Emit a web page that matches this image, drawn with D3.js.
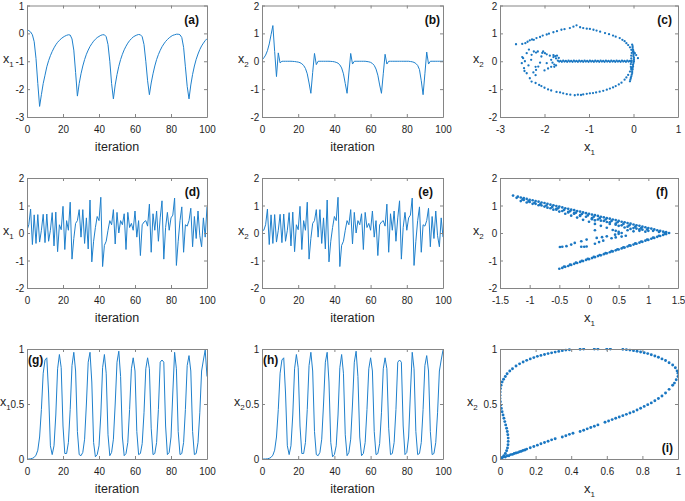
<!DOCTYPE html>
<html>
<head>
<meta charset="utf-8">
<script src="https://cdn.jsdelivr.net/npm/d3@7"></script>
<style>
  body { margin: 0; background: #fff; }
  svg { display: block; }
  text { font-family: Arial, "Liberation Sans", sans-serif; }
</style>
</head>
<body>
<div id="chart"></div>
<script>
// ---- data ----

// (a) x1 per iteration 0..100
const seriesA = [
  0.12, 0.1, 0.05, -0.05, -0.3, -0.9, -1.8, -2.62, -2.2, -1.8,
  -1.5, -1.2, -0.98, -0.8, -0.65, -0.52, -0.41, -0.32, -0.25, -0.19,
  -0.14, -0.1, -0.07, -0.05, -0.06, -0.2, -0.6, -1.4, -2.25, -1.8,
  -1.45, -1.17, -0.94, -0.75, -0.6, -0.47, -0.37, -0.28, -0.21, -0.15,
  -0.11, -0.07, -0.05, -0.05, -0.12, -0.4, -1.0, -1.8, -2.35, -1.85,
  -1.48, -1.18, -0.94, -0.75, -0.59, -0.46, -0.35, -0.26, -0.19, -0.13,
  -0.09, -0.06, -0.04, -0.05, -0.12, -0.4, -1.0, -1.7, -2.2, -1.78,
  -1.45, -1.17, -0.94, -0.76, -0.61, -0.48, -0.38, -0.29, -0.22, -0.16,
  -0.11, -0.07, -0.05, -0.03, -0.03, -0.05, -0.15, -0.5, -1.2, -1.9,
  -2.35, -1.85, -1.47, -1.17, -0.93, -0.74, -0.58, -0.45, -0.35, -0.26,
  -0.19
];

// (b) x2 per iteration
const seriesB = [
  0.05, 0.12, 0.22, 0.38, 0.62, 0.95, 1.28, 0.35, -0.55, 0.3,
  -0.06, 0.0, 0.0, 0.0, 0.0, 0.0, 0.0, -0.005, -0.01, -0.02,
  -0.03, -0.05, -0.09, -0.15, -0.26, -0.45, -0.78, -1.15, -0.4, 0.28,
  -0.12, 0.0, 0.0, 0.0, 0.0, 0.0, 0.0, 0.0, -0.005, -0.01,
  -0.02, -0.04, -0.07, -0.13, -0.24, -0.45, -0.8, -1.15, -0.42, 0.28,
  -0.1, 0.0, 0.0, 0.0, 0.0, 0.0, 0.0, 0.0, -0.01, -0.02,
  -0.04, -0.08, -0.15, -0.28, -0.5, -0.85, -1.15, -0.45, 0.25, -0.1,
  0.0, 0.0, 0.0, 0.0, 0.0, 0.0, 0.0, 0.0, 0.0, 0.0,
  0.0, 0.0, -0.01, -0.02, -0.04, -0.08, -0.15, -0.3, -0.7, -1.2,
  -0.45, 0.33, -0.1, 0.0, 0.0, 0.0, 0.0, 0.0, 0.0, 0.0,
  0.0
];

// (d) x1 per iteration
const seriesD = [
  0.1, 0.3, 0.87, -0.42, 0.66, -0.38, 0.67, -0.33, 0.1, 0.68,
  -0.35, 0.69, -0.3, 0.1, 0.74, -0.47, 0.76, -0.68, 0.3, 0.12,
  0.97, -0.6, 0.45, 0.1, 1.12, -0.95, -0.2, 0.35, 0.45, 0.85,
  -0.15, 0.85, -0.38, 0.55, -0.58, 1.2, -1.05, -0.3, 0.2, 0.6,
  0.45, 1.3, -1.22, -0.45, -0.3, 0.1, 0.45, 0.3, 0.85, -0.4,
  0.75, 0.0, 0.45, 0.3, 0.7, -0.6, 0.75, 0.2, 0.35, 0.1,
  0.8, -0.15, 0.45, -0.82, 0.3, 0.4, 0.45, 0.25, 1.05, -0.7,
  0.7, 0.1, 0.8, -0.3, 0.55, 1.17, -0.95, 0.2, 0.75, 0.1,
  0.55, 0.65, 1.27, -1.18, -0.3, 0.45, 0.95, -0.7, 0.3, 0.25,
  0.45, 0.9, -0.5, 0.6, -0.2, 0.8, -0.1, -0.5, 0.55, -0.15,
  0.95
];

// (e) x2 per iteration
const seriesE = [
  0.1, 0.1, 0.3, 0.87, -0.42, 0.66, -0.38, 0.67, -0.33, 0.1,
  0.68, -0.35, 0.69, -0.3, 0.1, 0.74, -0.47, 0.76, -0.68, 0.3,
  0.12, 0.97, -0.6, 0.45, 0.1, 1.12, -0.95, -0.2, 0.35, 0.45,
  0.85, -0.15, 0.85, -0.38, 0.55, -0.58, 1.2, -1.05, -0.3, 0.2,
  0.6, 0.45, 1.3, -1.22, -0.45, -0.3, 0.1, 0.45, 0.3, 0.85,
  -0.4, 0.75, 0.0, 0.45, 0.3, 0.7, -0.6, 0.75, 0.2, 0.35,
  0.1, 0.8, -0.15, 0.45, -0.82, 0.3, 0.4, 0.45, 0.25, 1.05,
  -0.7, 0.7, 0.1, 0.8, -0.3, 0.55, 1.17, -0.95, 0.2, 0.75,
  0.1, 0.55, 0.65, 1.27, -1.18, -0.3, 0.45, 0.95, -0.7, 0.3,
  0.25, 0.45, 0.9, -0.5, 0.6, -0.2, 0.8, -0.1, -0.5, 0.55,
  -0.15
];

// (g) x1 per iteration
const seriesG = [
  0.0, 0.0, 0.002, 0.006, 0.015, 0.035, 0.08, 0.2, 0.45, 0.78,
  0.9, 0.92, 0.6, 0.12, 0.04, 0.12, 0.4, 0.82, 0.95, 0.83,
  0.3, 0.05, 0.05, 0.15, 0.45, 0.85, 0.97, 0.8, 0.25, 0.04,
  0.03, 0.06, 0.18, 0.5, 0.88, 0.97, 0.7, 0.15, 0.02, 0.04,
  0.12, 0.4, 0.83, 0.95, 0.78, 0.22, 0.03, 0.06, 0.18, 0.5,
  0.88, 0.98, 0.75, 0.2, 0.03, 0.05, 0.15, 0.45, 0.82, 0.92,
  0.8, 0.25, 0.04, 0.05, 0.14, 0.42, 0.82, 0.92, 0.82, 0.28,
  0.04, 0.05, 0.15, 0.45, 0.88, 0.9, 0.88, 0.3, 0.04, 0.06,
  0.2, 0.6, 0.97, 0.82, 0.25, 0.04, 0.05, 0.15, 0.45, 0.85,
  0.94, 0.8, 0.25, 0.04, 0.05, 0.15, 0.42, 0.8, 0.9, 0.99,
  0.75
];

// (h) x2 per iteration
const seriesH = [
  0.0, 0.0, 0.0, 0.002, 0.006, 0.015, 0.035, 0.08, 0.2, 0.45,
  0.78, 0.9, 0.92, 0.6, 0.12, 0.04, 0.12, 0.4, 0.82, 0.95,
  0.83, 0.3, 0.05, 0.05, 0.15, 0.45, 0.85, 0.97, 0.8, 0.25,
  0.04, 0.03, 0.06, 0.18, 0.5, 0.88, 0.97, 0.7, 0.15, 0.02,
  0.04, 0.12, 0.4, 0.83, 0.95, 0.78, 0.22, 0.03, 0.06, 0.18,
  0.5, 0.88, 0.98, 0.75, 0.2, 0.03, 0.05, 0.15, 0.45, 0.82,
  0.92, 0.8, 0.25, 0.04, 0.05, 0.14, 0.42, 0.82, 0.92, 0.82,
  0.28, 0.04, 0.05, 0.15, 0.45, 0.88, 0.9, 0.88, 0.3, 0.04,
  0.06, 0.2, 0.6, 0.97, 0.82, 0.25, 0.04, 0.05, 0.15, 0.45,
  0.85, 0.94, 0.8, 0.25, 0.04, 0.05, 0.15, 0.42, 0.8, 0.9,
  0.99
];

// (c) phase points [x1, x2]
const pointsC = [
  [-2.64,0.61],[-2.5,0.62],[-2.43,0.65],[-2.38,0.7],[-2.33,0.75],[-2.28,0.78],[-2.24,0.77],[-2.18,0.83],
  [-2.1,0.87],[-2.04,0.92],[-1.95,0.96],[-1.9,0.99],[-1.8,1.04],[-1.72,1.08],[-1.62,1.13],[-1.55,1.15],
  [-1.43,1.19],[-1.35,1.24],[-1.28,1.29],[-1.2,1.22],[-1.13,1.19],[-1.05,1.17],[-0.98,1.16],[-0.9,1.13],
  [-0.83,1.1],[-0.75,1.06],[-0.64,1.01],[-0.55,0.97],[-0.46,0.92],[-0.4,0.88],[-0.31,0.83],[-0.25,0.77],
  [-0.2,0.72],[-0.16,0.65],[-0.12,0.58],[-0.08,0.5],[-0.05,0.41],[0.0,0.35],[0.03,0.29],[0.06,0.22],[0.1,0.11],
  [-2.2,-0.78],[-2.12,-0.85],[-2.07,-0.89],[-2.0,-0.95],[-1.92,-1.01],[-1.85,-1.05],[-1.73,-1.1],[-1.65,-1.12],
  [-1.58,-1.15],[-1.5,-1.18],[-1.42,-1.2],[-1.32,-1.22],[-1.25,-1.2],[-1.18,-1.21],[-1.13,-1.19],[-1.05,-1.17],
  [-0.98,-1.15],[-0.91,-1.14],[-0.84,-1.12],[-0.76,-1.09],[-0.68,-1.06],[-0.6,-1.02],[-0.53,-0.98],[-0.46,-0.94],
  [-0.4,-0.89],[-0.33,-0.83],[-0.27,-0.77],[-0.2,-0.66],[-0.16,-0.58],[-0.12,-0.49],[-0.08,-0.37],[-0.05,-0.25],
  [-2.48,0.11],[-2.51,-0.07],[-2.46,-0.25],[-2.4,-0.43],[-2.33,-0.61],[-2.29,-0.73],[-2.4,0.29],[-2.29,0.23],
  [-2.19,0.31],[-2.19,-0.31],[-2.14,-0.19],[-2.07,0.17],[-1.99,0.29],[-2.24,0.35],[-2.03,0.35],[-1.95,-0.07],
  [-2.44,0.0],[-2.36,-0.15],[-2.3,0.05],[-2.25,-0.4],[-2.1,-0.05],[-2.2,-0.5],[-2.35,0.42],[-2.5,0.15],
  [-2.45,-0.35],[-2.2,-0.2],
  [-2.15,0.35],[-2.05,0.3],[-1.95,0.25],[-1.88,0.2],[-1.8,0.15],[-1.74,0.1],[-2.0,-0.33],
  [-1.92,-0.26],[-1.85,-0.2],[-1.78,-0.12],
  [-1.85,0.05],[-1.82,-0.05],[-1.8,0.22],[-1.76,0.18],[-1.72,0.2],[-1.68,0.12],[-1.78,-0.2],[-1.74,-0.15],
  [-1.7,0.02],[-1.67,-0.01],[-1.64,0.01],[-1.61,-0.02],[-1.58,0.02],[-1.55,-0.01],[-1.52,0.01],[-1.49,-0.02],
  [-1.46,0.02],[-1.43,-0.01],[-1.4,0.01],[-1.37,-0.02],[-1.34,0.02],[-1.31,-0.01],[-1.28,0.01],[-1.25,-0.02],
  [-1.22,0.02],[-1.19,-0.01],[-1.16,0.01],[-1.13,-0.02],[-1.1,0.02],[-1.07,-0.01],[-1.04,0.01],[-1.01,-0.02],
  [-0.98,0.02],[-0.95,-0.01],[-0.92,0.01],[-0.89,-0.02],[-0.86,0.02],[-0.83,-0.01],[-0.8,0.01],[-0.77,-0.02],
  [-0.74,0.02],[-0.71,-0.01],[-0.68,0.01],[-0.65,-0.02],[-0.62,0.02],[-0.59,-0.01],[-0.56,0.01],[-0.53,-0.02],
  [-0.5,0.02],[-0.47,-0.01],[-0.44,0.01],[-0.41,-0.02],[-0.38,0.02],[-0.35,-0.01],[-0.32,0.01],[-0.29,-0.02],
  [-0.26,0.02],[-0.23,-0.01],[-0.2,0.01],[-0.17,-0.02],[-0.14,0.02],[-0.11,-0.01],[-0.08,0.01],[-0.05,-0.02],
  [-0.03,0.6],[-0.02,0.54],[-0.02,0.48],[-0.01,0.42],[-0.01,0.36],[0.0,0.3],[0.0,0.24],[0.0,0.18],
  [0.01,0.12],[0.01,0.06],[0.01,0.0],[-0.04,0.02],[-0.05,-0.02],[0.0,-0.06],[-0.01,-0.12],[-0.01,-0.18],
  [-0.02,-0.24],[-0.02,-0.3],[-0.03,-0.36],[-0.03,-0.42],[-0.04,-0.48],[-0.05,-0.54],[-0.06,-0.6],[-0.07,-0.66],
  [-0.08,-0.72],[-0.05,0.1],[-0.06,-0.1],[-0.05,0.2],[-0.06,-0.2],[-0.04,0.3],[-0.05,-0.3]
];

// (f) phase points [x1, x2]
const pointsF = [
  [-1.28,1.36],[-1.2,1.32],[-1.15,1.29],[-1.1,1.27],[-1.05,1.24],[-1.0,1.21],[-0.95,1.19],[-0.9,1.16],
  [-0.85,1.14],[-0.8,1.11],[-0.75,1.09],[-0.7,1.06],[-0.65,1.03],[-0.6,1.01],[-0.55,0.98],[-0.5,0.96],
  [-0.45,0.93],[-0.4,0.9],[-0.35,0.88],[-0.3,0.85],[-0.25,0.83],[-0.2,0.8],[-0.15,0.78],[-0.1,0.75],
  [-0.05,0.72],[0,0.7],[0.05,0.67],[0.1,0.65],[0.15,0.62],[0.2,0.59],[0.25,0.57],[0.3,0.54],
  [0.35,0.52],[0.4,0.49],[0.45,0.47],[0.5,0.44],[0.55,0.41],[0.6,0.39],[0.65,0.36],[0.7,0.34],
  [0.75,0.31],[0.8,0.28],[0.85,0.26],[0.9,0.23],[0.95,0.21],[1.0,0.18],[1.05,0.16],[1.1,0.13],
  [1.15,0.1],[1.2,0.08],[1.25,0.05],[1.3,0.03],[1.35,0.0],
  [-1.22,1.28],[-1.12,1.22],[-1.02,1.16],[-0.92,1.1],[-0.82,1.05],[-0.72,1.0],[-0.62,0.95],[-0.52,0.9],
  [-0.42,0.84],[-0.32,0.79],[-0.22,0.74],[-0.12,0.69],[-0.02,0.64],[0.08,0.59],[0.18,0.54],[0.28,0.49],
  [0.38,0.44],[0.48,0.39],[0.58,0.33],[0.68,0.28],[0.78,0.23],[0.88,0.18],[0.98,0.13],[1.08,0.08],
  [1.18,0.04],[1.28,0.01],
  [-1.15,1.16],[-1.05,1.11],[-0.95,1.06],[-0.85,1.01],[-0.75,0.96],[-0.65,0.9],[-0.55,0.85],[-0.45,0.8],
  [-0.35,0.75],[-0.25,0.7],[-0.15,0.65],[-0.05,0.59],[0.05,0.54],[0.15,0.49],[0.25,0.44],[0.35,0.39],
  [0.45,0.34],[0.55,0.28],[0.65,0.23],[0.75,0.18],[0.85,0.13],
  [-1.1,1.2],[-0.9,1.06],[-0.7,0.92],[-0.5,0.78],[-0.4,0.7],[-0.3,0.63],[-0.2,0.56],[-0.1,0.48],
  [0,0.41],[0.1,0.33],[0.2,0.26],[0.3,0.19],[0.4,0.11],[0.45,0.08],[0.5,0.04],[0.55,0.0],
  [-0.6,0.85],[-0.8,1.0],[-1.0,1.13],
  [-0.55,0.88],[-0.35,0.77],[-0.15,0.62],[0.05,0.5],[0.2,0.45],[0.35,0.33],[0.5,0.26],[0.6,0.2],
  [0.7,0.15],[0.8,0.16],[0.9,0.12],[1.0,0.08],[0.65,0.1],[0.75,0.06],[0.85,0.08],[0.95,0.05],
  [-0.25,0.72],[0.1,0.46],[0.3,0.4],[0.45,0.3],[0.1,0.1],
  [-0.5,-1.3],[-0.45,-1.27],[-0.4,-1.23],[-0.35,-1.2],[-0.3,-1.16],[-0.25,-1.12],[-0.2,-1.09],[-0.15,-1.05],
  [-0.1,-1.02],[-0.05,-0.98],[0,-0.95],[0.05,-0.91],[0.1,-0.88],[0.15,-0.84],[0.2,-0.81],[0.25,-0.77],
  [0.3,-0.74],[0.35,-0.7],[0.4,-0.67],[0.45,-0.63],[0.5,-0.6],[0.55,-0.56],[0.6,-0.53],[0.65,-0.49],
  [0.7,-0.46],[0.75,-0.42],[0.8,-0.39],[0.85,-0.35],[0.9,-0.32],[0.95,-0.28],[1.0,-0.25],[1.05,-0.21],
  [1.1,-0.18],[1.15,-0.14],[1.2,-0.11],[1.25,-0.07],[1.3,-0.04],
  [-0.42,-1.22],[-0.22,-1.08],[-0.02,-0.94],[0.18,-0.8],[0.38,-0.66],[0.58,-0.52],[0.78,-0.38],[0.98,-0.24],[1.18,-0.1],
  [-0.32,-1.15],[-0.12,-1.01],[0.08,-0.87],[0.28,-0.73],[0.48,-0.59],[0.68,-0.45],[0.88,-0.31],[1.08,-0.17],[1.28,-0.03],
  [-0.49,-0.51],[-0.45,-0.5],[-0.38,-0.48],[-0.3,-0.42],[-0.24,-0.36],[-0.13,-0.3],[-0.04,-0.24],[0.13,-0.18],
  [0.22,-0.15],[0.3,-0.12],[0.44,-0.06],[0.5,-0.03],
  [-0.13,-0.5],[-0.08,-0.5],[-0.04,-0.49],[0.1,-0.39],[0.17,-0.33],[0.24,-0.28],[0.38,-0.19],[0.45,-0.16],
  [0.55,-0.13],[0.62,-0.1]
];

// (i) phase points [x1, x2]
const pointsI = [
  [0.01,0.005],[0.03,0.018],[0.05,0.03],[0.07,0.042],[0.09,0.054],[0.11,0.066],[0.13,0.078],[0.15,0.09],
  [0.17,0.102],[0.19,0.114],[0.21,0.126],[0.23,0.138],[0.25,0.15],[0.27,0.162],[0.29,0.174],[0.31,0.184],
  [0.35,0.2],[0.37,0.212],[0.39,0.224],[0.41,0.234],[0.45,0.25],[0.47,0.262],[0.49,0.274],
  [0.51,0.286],[0.53,0.298],[0.55,0.31],[0.59,0.334],[0.61,0.346],[0.63,0.358],[0.65,0.37],[0.67,0.382],
  [0.69,0.394],[0.71,0.406],[0.73,0.418],[0.75,0.43],[0.77,0.446],[0.79,0.462],[0.81,0.478],[0.83,0.494],
  [0.85,0.51],[0.87,0.53],[0.89,0.55],[0.91,0.573],[0.93,0.6],[0.95,0.633],[0.97,0.67],[0.98,0.69],
  [0.99,0.72],[1.0,0.75],
  [0.02,0.02],[0.04,0.03],[0.06,0.04],[0.08,0.05],[0.1,0.058],[0.12,0.07],[0.14,0.082],
  [1.0,0.78],[0.995,0.8],[0.985,0.83],[0.97,0.855],[0.95,0.875],[0.93,0.895],[0.91,0.91],[0.89,0.925],
  [0.87,0.937],[0.85,0.948],[0.83,0.958],[0.81,0.966],[0.79,0.973],[0.77,0.98],[0.75,0.985],[0.73,0.99],
  [0.71,0.994],[0.69,0.997],[0.62,1.0],[0.6,1.0],[0.55,1.0],[0.53,1.0],[0.47,1.0],[0.45,0.998],
  [0.39,0.993],[0.37,0.99],[0.35,0.985],[0.33,0.978],[0.31,0.972],[0.29,0.965],[0.27,0.958],[0.25,0.95],
  [0.23,0.942],[0.21,0.933],[0.19,0.922],[0.17,0.91],[0.15,0.897],[0.13,0.882],[0.11,0.865],[0.09,0.845],
  [0.07,0.82],[0.055,0.8],[0.04,0.775],[0.03,0.75],[0.02,0.725],[0.012,0.7],[0.006,0.67],[0.003,0.64],
  [0.001,0.61],[0.0,0.58],[0.0,0.55],[0.002,0.52],[0.005,0.49],[0.008,0.46],[0.012,0.43],[0.017,0.4],
  [0.022,0.37],[0.027,0.34],[0.032,0.31],[0.037,0.28],[0.041,0.25],[0.044,0.22],[0.046,0.19],[0.046,0.16],
  [0.045,0.13],[0.042,0.1],[0.037,0.075],[0.03,0.05],[0.022,0.03],[0.012,0.015],[0.004,0.005]
];

// tick values
const iterTicks = [0, 20, 40, 60, 80, 100];
const ticksA = [-3, -2, -1, 0, 1];
const ticksTwo = [-2, -1, 0, 1, 2];
const ticksUnit = [0, 0.5, 1];
const ticksCx = [-3, -2, -1, 0, 1];
const ticksFx = [-1.5, -1, -0.5, 0, 0.5, 1, 1.5];
const ticksIx = [0, 0.2, 0.4, 0.6, 0.8, 1];

// ---- layout ----
const W = 685, H = 501;
const cols = [{ l: 27, r: 207 }, { l: 262, r: 443 }, { l: 500, r: 678 }];
const rows = [{ t: 5.5, b: 117 }, { t: 178, b: 288 }, { t: 349, b: 459 }];
const lineBlue = "#1f80cc";
const dotBlue = "#1a77c2";
const axisGrey = "#858585";

const panels = [
  { tag: "(a)", col: 0, row: 0, kind: "line", data: seriesA, xDom: [0, 100], yDom: [-3, 1], xt: iterTicks, yt: ticksA, xl: "iteration", yl: "1", ylx: 3, tagPos: "tr", tagDx: 8 },
  { tag: "(b)", col: 1, row: 0, kind: "line", data: seriesB, xDom: [0, 100], yDom: [-2, 2], xt: iterTicks, yt: ticksTwo, xl: "iteration", yl: "2", ylx: 238, tagPos: "tr", tagDx: 3 },
  { tag: "(c)", col: 2, row: 0, kind: "dots", data: pointsC, xDom: [-3, 1], yDom: [-2, 2], xt: ticksCx, yt: ticksTwo, xl: "x", yl: "2", ylx: 473, tagPos: "tr", tagDx: 6, r: 1.15 },
  { tag: "(d)", col: 0, row: 1, kind: "line", data: seriesD, xDom: [0, 100], yDom: [-2, 2], xt: iterTicks, yt: ticksTwo, xl: "iteration", yl: "1", ylx: 3, tagPos: "tr", tagDx: 7 },
  { tag: "(e)", col: 1, row: 1, kind: "line", data: seriesE, xDom: [0, 100], yDom: [-2, 2], xt: iterTicks, yt: ticksTwo, xl: "iteration", yl: "2", ylx: 238, tagPos: "tr", tagDx: 10 },
  { tag: "(f)", col: 2, row: 1, kind: "dots", data: pointsF, xDom: [-1.5, 1.5], yDom: [-2, 2], xt: ticksFx, yt: ticksTwo, xl: "x", yl: "2", ylx: 473, tagPos: "tr", tagDx: 10, r: 1.35 },
  { tag: "(g)", col: 0, row: 2, kind: "line", data: seriesG, xDom: [0, 100], yDom: [0, 1], xt: iterTicks, yt: ticksUnit, xl: "iteration", yl: "1", ylx: 0, tagPos: "tl" },
  { tag: "(h)", col: 1, row: 2, kind: "line", data: seriesH, xDom: [0, 100], yDom: [0, 1], xt: iterTicks, yt: ticksUnit, xl: "iteration", yl: "2", ylx: 234, tagPos: "tl" },
  { tag: "(i)", col: 2, row: 2, kind: "dots", data: pointsI, xDom: [0, 1], yDom: [0, 1], xt: ticksIx, yt: ticksUnit, xl: "x", yl: "2", ylx: 467, tagPos: "br", r: 1.45 }
];

const svg = d3.select("#chart").append("svg")
  .attr("width", W)
  .attr("height", H);

svg.append("rect").attr("width", W).attr("height", H).attr("fill", "#fff");

const fmt = d => String(d);

function styleAxis(sel) {
  sel.attr("font-size", 11).attr("font-family", "Arial, 'Liberation Sans', sans-serif");
  sel.select(".domain").attr("stroke", axisGrey);
  sel.selectAll(".tick line").attr("stroke", axisGrey);
  sel.selectAll(".tick text").attr("fill", "#1e1e1e").attr("transform", "scale(0.9,1)");
}

function drawPanel(p, idx) {
  const c = cols[p.col], r = rows[p.row];
  const x = d3.scaleLinear().domain(p.xDom).range([c.l, c.r]);
  const y = d3.scaleLinear().domain(p.yDom).range([r.b, r.t]);
  const g = svg.append("g");

  const clipId = "clip" + idx;
  g.append("clipPath").attr("id", clipId)
    .append("rect")
    .attr("x", c.l).attr("y", r.t - 1)
    .attr("width", c.r - c.l).attr("height", r.b - r.t + 2);

  const marks = g.append("g").attr("clip-path", `url(#${clipId})`);

  if (p.kind === "line") {
    const line = d3.line()
      .x((d, i) => x(i))
      .y(d => y(d));
    marks.append("path")
      .datum(p.data)
      .attr("fill", "none")
      .attr("stroke", lineBlue)
      .attr("stroke-width", 1)
      .attr("stroke-linejoin", "round")
      .attr("d", line);
  } else {
    marks.selectAll("circle")
      .data(p.data)
      .enter()
      .append("circle")
      .attr("cx", d => x(d[0]))
      .attr("cy", d => y(d[1]))
      .attr("r", p.r)
      .attr("fill", dotBlue);
  }

  // box with inward ticks on all four sides
  g.append("g")
    .attr("transform", `translate(0,${r.b})`)
    .call(d3.axisBottom(x).tickValues(p.xt).tickSizeInner(-3).tickSizeOuter(0).tickPadding(8).tickFormat(fmt))
    .call(styleAxis);
  g.append("g")
    .attr("transform", `translate(0,${r.t})`)
    .call(d3.axisTop(x).tickValues(p.xt).tickSizeInner(-3).tickSizeOuter(0).tickFormat(""))
    .call(styleAxis);
  g.append("g")
    .attr("transform", `translate(${c.l},0)`)
    .call(d3.axisLeft(y).tickValues(p.yt).tickSizeInner(-3).tickSizeOuter(0).tickPadding(3).tickFormat(fmt))
    .call(styleAxis);
  g.append("g")
    .attr("transform", `translate(${c.r},0)`)
    .call(d3.axisRight(y).tickValues(p.yt).tickSizeInner(-3).tickSizeOuter(0).tickFormat(""))
    .call(styleAxis);

  // x label
  const cx = (c.l + c.r) / 2;
  if (p.xl === "iteration") {
    g.append("text")
      .attr("x", cx).attr("y", r.b + 34)
      .attr("text-anchor", "middle")
      .attr("font-size", 12.5)
      .attr("fill", "#1e1e1e")
      .text("iteration");
  } else {
    const t = g.append("text")
      .attr("x", cx - 5).attr("y", r.b + 34)
      .attr("font-size", 13)
      .attr("fill", "#1e1e1e");
    t.append("tspan").text("x");
    t.append("tspan").attr("font-size", 8).attr("dy", 4).text("1");
  }

  // y label
  const ty = g.append("text")
    .attr("x", p.ylx).attr("y", (r.t + r.b) / 2 + 2)
    .attr("font-size", 12.5)
    .attr("fill", "#1e1e1e");
  ty.append("tspan").text("x");
  ty.append("tspan").attr("font-size", 8).attr("dy", 4).text(p.yl);

  // panel tag
  const tag = g.append("text")
    .attr("font-size", 12)
    .attr("font-weight", "bold")
    .attr("fill", "#111")
    .text(p.tag);
  if (p.tagPos === "tr") {
    tag.attr("x", c.r - p.tagDx).attr("y", r.t + 18).attr("text-anchor", "end");
  } else if (p.tagPos === "tl") {
    tag.attr("x", c.l + 1).attr("y", r.t + 15).attr("text-anchor", "start");
  } else {
    tag.attr("x", c.r - 5).attr("y", r.b - 7).attr("text-anchor", "end");
  }
}

panels.forEach(drawPanel);
</script>
</body>
</html>
